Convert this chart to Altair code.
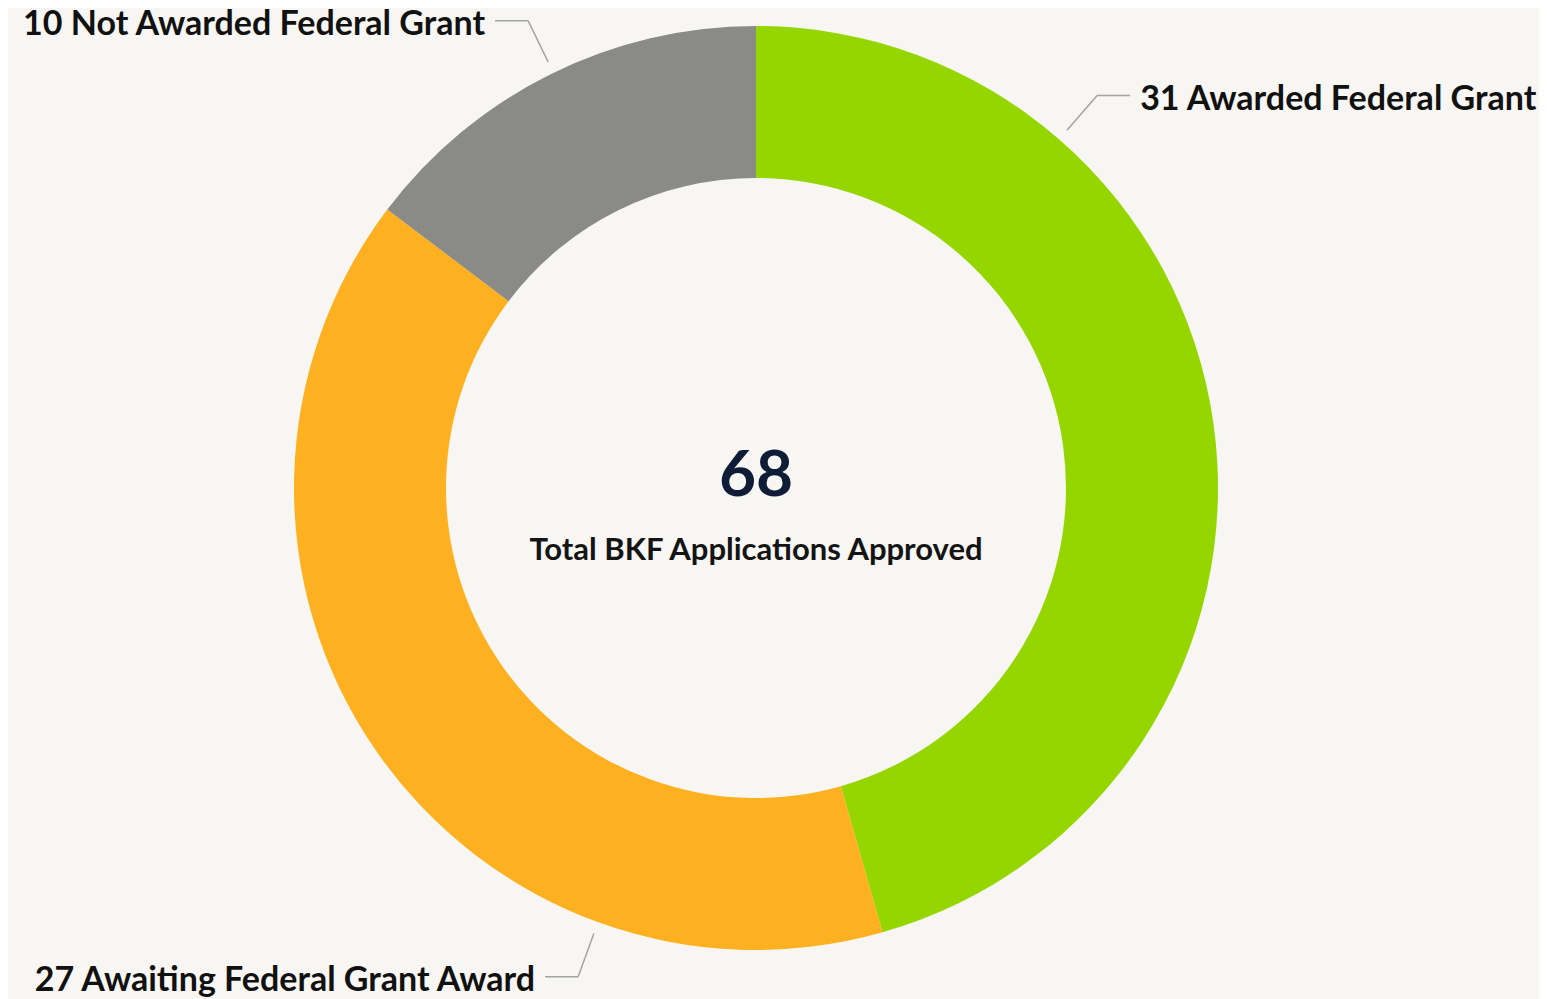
import altair as alt
import pandas as pd

# ---- data ----
categories = ["Awarded Federal Grant", "Awaiting Federal Grant Award", "Not Awarded Federal Grant"]
counts = [31, 27, 10]
colors = ["#95D600", "#FDB120", "#8A8B86"]
# where each leader line leaves the ring (degrees clockwise from 12 o'clock)
label_angles = [41, 200, 334]
label_sides = [1, -1, -1]  # +1 label to the right, -1 label to the left
total_value = sum(counts)
center_caption = "Total BKF Applications Approved"

# ---- layout constants (styling) ----
W, H = 1531, 991
CX, CY = 748, 480
R_OUT, R_IN = 462, 310
R_L1, R_L2 = 474, 520
HSEG = 33
GAP = 10
FONT = "Lato"
BG = "#F7F6F2"

df = pd.DataFrame({
    "category": categories,
    "count": counts,
    "order": list(range(len(categories))),
    "angle": label_angles,
    "side": label_sides,
})
df["label"] = [f"{c} {k}" for c, k in zip(counts, categories)]

xs = alt.Scale(domain=[-CX, W - CX], nice=False, zero=False)
ys = alt.Scale(domain=[-(H - CY), CY], nice=False, zero=False)

base = alt.Chart(df)

arc = base.mark_arc(innerRadius=R_IN, outerRadius=R_OUT).encode(
    theta=alt.Theta("count:Q", stack=True),
    color=alt.Color("category:N", scale=alt.Scale(domain=categories, range=colors), legend=None),
    order=alt.Order("order:Q"),
    x=alt.value(CX),
    y=alt.value(CY),
)

geo = base.transform_calculate(
    rad="datum.angle * PI / 180",
).transform_calculate(
    x1=f"{R_L1} * sin(datum.rad)",
    y1=f"{R_L1} * cos(datum.rad)",
    x2=f"{R_L2} * sin(datum.rad)",
    y2=f"{R_L2} * cos(datum.rad)",
).transform_calculate(
    x3=f"datum.x2 + datum.side * {HSEG}",
    xt=f"datum.x2 + datum.side * {HSEG + GAP}",
)

line_color = "#A3A3A0"
radial = geo.mark_rule(color=line_color, strokeWidth=1.5).encode(
    x=alt.X("x1:Q", scale=xs, axis=None),
    y=alt.Y("y1:Q", scale=ys, axis=None),
    x2="x2:Q",
    y2="y2:Q",
)
horiz = geo.mark_rule(color=line_color, strokeWidth=1.5).encode(
    x=alt.X("x2:Q", scale=xs, axis=None),
    y=alt.Y("y2:Q", scale=ys, axis=None),
    x2="x3:Q",
)

txt_kw = dict(font=FONT, fontSize=34, fontWeight="bold", color="#111111", baseline="middle", dy=4)
right_txt = geo.transform_filter("datum.side > 0").mark_text(align="left", **txt_kw).encode(
    x=alt.X("xt:Q", scale=xs, axis=None),
    y=alt.Y("y2:Q", scale=ys, axis=None),
    text="label:N",
)
left_txt = geo.transform_filter("datum.side < 0").mark_text(align="right", **txt_kw).encode(
    x=alt.X("xt:Q", scale=xs, axis=None),
    y=alt.Y("y2:Q", scale=ys, axis=None),
    text="label:N",
)

center = pd.DataFrame({"t": [str(total_value)]})
center_num = alt.Chart(center).mark_text(
    font=FONT, fontSize=64, fontWeight="bold", color="#0E1C36", baseline="middle", align="center"
).encode(text="t:N", x=alt.value(CX), y=alt.value(CY - 11))

cap = pd.DataFrame({"t": [center_caption]})
center_cap = alt.Chart(cap).mark_text(
    font=FONT, fontSize=31, fontWeight="bold", color="#141414", baseline="middle", align="center"
).encode(text="t:N", x=alt.value(CX), y=alt.value(CY + 63))

chart = alt.layer(arc, radial, horiz, right_txt, left_txt, center_num, center_cap).properties(
    width=W, height=H,
    autosize=alt.AutoSizeParams(type="none"),
    padding=0,
    background=BG,
).configure_view(stroke=None)

chart.save("out.html", embed_options={"renderer": "svg", "actions": False})
